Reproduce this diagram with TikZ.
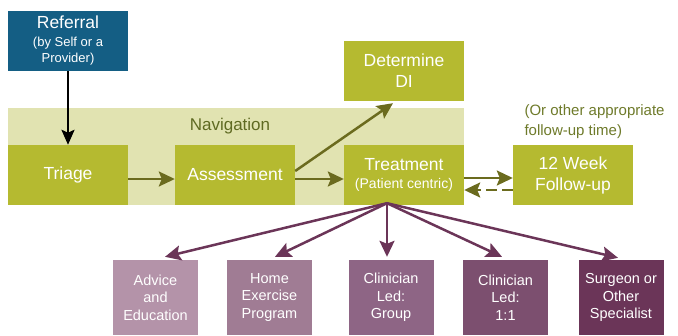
\documentclass[tikz,border=0pt]{standalone}
\usepackage{fontspec}
\setmainfont{Liberation Sans}
\usetikzlibrary{arrows.meta}
\definecolor{refblue}{HTML}{145E84}
\definecolor{boxgreen}{HTML}{B5BA30}
\definecolor{bandgreen}{HTML}{E1E3B1}
\definecolor{arrowgreen}{HTML}{6B6B1E}
\definecolor{labelgreen}{HTML}{5F6A22}
\definecolor{notegreen}{HTML}{6E7A2A}
\definecolor{arrowplum}{HTML}{6B3558}
\definecolor{plumA}{HTML}{B493A9}
\definecolor{plumB}{HTML}{A07C94}
\definecolor{plumC}{HTML}{8E6585}
\definecolor{plumD}{HTML}{7C4F6F}
\definecolor{plumE}{HTML}{6B3558}
\tikzset{
  stepbox/.style={fill=boxgreen, text=white, minimum width=120pt, minimum height=60pt, inner sep=0pt, align=center, font=\fontsize{17.5}{21}\selectfont},
  optbox/.style={text=white, minimum width=85pt, minimum height=75pt, inner sep=0pt, align=center, font=\fontsize{14.5}{17.5}\selectfont},
  greenarrow/.style={draw=arrowgreen, line width=2.5pt, -{Stealth[length=16pt,width=15pt,inset=3pt]}},
  plumarrow/.style={draw=arrowplum, line width=2.5pt, -{Stealth[length=16pt,width=15pt,inset=3pt]}}
}
\begin{document}
\begin{tikzpicture}[x=1pt,y=-1pt]
\useasboundingbox (0,0) rectangle (678,335);
\fill[bandgreen] (8,108) rectangle (464,205);
\node[text=labelgreen, font=\fontsize{17}{20}\selectfont] (nav) at (230,126) {Navigation};

\node[stepbox, fill=refblue] (referral) at (68,41) {Referral\\[-3pt]\fontsize{13}{15}\selectfont (by Self or a\\[-5pt]\fontsize{13}{15}\selectfont Provider)};
\node[stepbox] (triage) at (68,175) {Triage};
\node[stepbox] (assessment) at (235,175) {Assessment};
\node[stepbox] (treatment) at (404,175) {Treatment\\[-3pt]\fontsize{14}{16}\selectfont (Patient centric)};
\node[stepbox] (determine) at (404,71) {Determine\\DI};
\node[stepbox] (followup) at (573,175) {12 Week\\Follow-up};
\node[text=notegreen, anchor=west, align=left, font=\fontsize{15}{20}\selectfont] (note) at (521,122) {(Or other appropriate\\follow-up time)};

\node[optbox, fill=plumA] (advice) at (155.5,297.5) {Advice\\and\\Education};
\node[optbox, fill=plumB] (home) at (269.5,297.5) {Home\\Exercise\\Program};
\node[optbox, fill=plumC] (group) at (391,297.5) {Clinician\\Led:\\Group};
\node[optbox, fill=plumD] (oneone) at (505.5,297.5) {Clinician\\Led:\\1:1};
\node[optbox, fill=plumE] (surgeon) at (621,297.5) {Surgeon or\\Other\\Specialist};

\draw[line width=2.5pt, -{Stealth[length=15pt,width=13pt,inset=3pt]}] (referral.south) -- (triage.north);
\draw[greenarrow] ([yshift=-4pt]triage.east) -- ([yshift=-4pt]assessment.west);
\draw[greenarrow] ([yshift=-4pt]assessment.east) -- ([yshift=-4pt]treatment.west);
\draw[greenarrow] ([yshift=4pt]assessment.east) -- ([xshift=-11pt,yshift=-2pt]determine.south);
\draw[greenarrow] ([yshift=-3pt]treatment.east) -- ([yshift=-3pt]followup.west);
\draw[greenarrow, dash pattern=on 11pt off 5pt] ([yshift=-15pt]followup.west) -- ([yshift=-15pt]treatment.east);

\coordinate (fan) at ([xshift=-17pt,yshift=2pt]treatment.south);
\draw[plumarrow] (fan) -- ([xshift=9.5pt,yshift=3pt]advice.north);
\draw[plumarrow] (fan) -- ([xshift=5.5pt,yshift=3pt]home.north);
\draw[plumarrow] (fan) -- ([xshift=-4pt,yshift=3pt]group.north);
\draw[plumarrow] (fan) -- ([xshift=-3.5pt,yshift=3pt]oneone.north);
\draw[plumarrow] (fan) -- ([xshift=-3pt,yshift=2pt]surgeon.north);
\end{tikzpicture}
\end{document}
